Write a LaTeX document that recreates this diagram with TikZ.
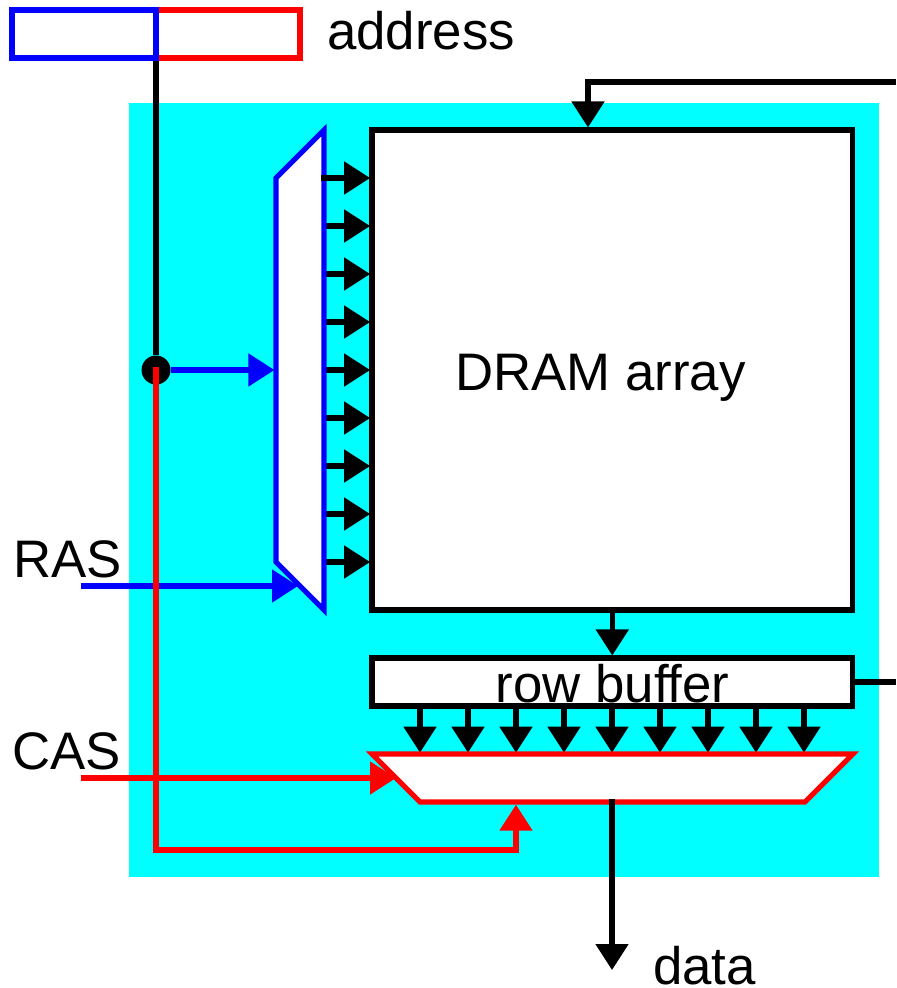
\documentclass[tikz,border=0pt]{standalone}
\usepackage{fontspec}
\setmainfont{Liberation Sans}
\usetikzlibrary{arrows.meta, calc}
\definecolor{chipcyan}{RGB}{0,255,255}
\definecolor{rowblue}{RGB}{0,0,255}
\definecolor{colred}{RGB}{255,0,0}

\begin{document}
\begin{tikzpicture}[x=0.75pt,y=-0.75pt,every node/.style={font=\fontsize{39.6}{44}\selectfont}]
%
% Skiss:
% address -> dot -> row mux -> DRAM array -> row buffer -> col mux -> data
%
\tikzstyle{chip} = [rectangle, minimum width=562.5pt, minimum height=580.5pt, fill=chipcyan, inner sep=0pt]
\tikzstyle{addr} = [rectangle, minimum width=108pt, minimum height=36pt, line width=3.8pt, fill=white, inner sep=0pt]
\tikzstyle{block} = [rectangle, minimum width=360.4pt, draw=black, line width=3.8pt, fill=white, inner sep=0pt]
\tikzstyle{muxbox} = [rectangle, inner sep=0pt, outer sep=0pt]
\tikzstyle{mux} = [line width=3.8pt, fill=white, line join=miter]
\tikzstyle{label} = [inner sep=0pt, anchor=base west]
\tikzstyle{arrow} = [line width=3.8pt,-{Triangle[length=19.5pt,width=24pt]}]
\tikzstyle{line} = [line width=3.8pt]
\useasboundingbox (0,0) rectangle (896,988);
% Nodes
\node (chip) [chip] at (504,490) {};
\node (addrCol) [addr, draw=colred] at (228,34) {};
\node (addrRow) [addr, draw=rowblue] at (84,34) {};
\node (addrLabel) [label] at (327,49.5) {address};
\node (array) [block, minimum height=360pt] at (612.25,370) {};
\node (arrayLabel) [label, anchor=base] at (600.5,390) {DRAM array};
\node (rowBuf) [block, minimum height=36pt] at (612.25,682) {};
\node (rowBufLabel) [label, anchor=base] at (612.5,702) {row buffer};
\node (dot) [circle, fill=black, minimum size=21.75pt, inner sep=0pt] at (156,370) {};
\node (colMux) [muxbox, minimum width=36pt, minimum height=360pt] at (300,370) {};
\node (rowMux) [muxbox, minimum width=360.75pt, minimum height=36pt] at (612.5,778) {};
\node (rasLabel) [label] at (13,577) {RAS};
\node (casLabel) [label] at (12,769) {CAS};
\node (dataLabel) [label] at (653,984) {data};
\coordinate (topIn) at (896,82);
\coordinate (topTurn) at (588,82);
\coordinate (bufOut) at (896,682);
\coordinate (rasIn) at (81,586);
\coordinate (rasEnd) at (298,586);
\coordinate (casIn) at (81,778);
\coordinate (casEnd) at (396,778);
\coordinate (redTurn) at (516,850);
\coordinate (dataEnd) at (612,970);

% Arrows
\draw [line] (dot |- addrRow.south) -- (dot);
\draw [arrow] (topIn) -- (topTurn) -- (topTurn |- array.north);
\draw [line] (rowBuf.east) -- (bufOut);
\draw [arrow] (array.south) -- (rowBuf.north);
\foreach \i in {0,...,8} {
  \coordinate (rowTap\i) at (0,178+48*\i);
  \coordinate (colTap\i) at (420+48*\i,0);
  \draw [arrow, shorten >=-0.5pt] (colMux.east |- rowTap\i) -- (rowTap\i -| array.west);
  \draw [arrow, shorten >=1pt] (colTap\i |- rowBuf.south) -- (colTap\i |- rowMux.north);
}
\draw [mux, draw=rowblue] (colMux.north east) -- (colMux.south east) -- ($(colMux.south west)+(0,-48)$) -- ($(colMux.north west)+(0,48)$) -- cycle;
\draw [mux, draw=colred] (rowMux.north west) -- (rowMux.north east) -- ($(rowMux.south east)+(-48,0)$) -- ($(rowMux.south west)+(48,0)$) -- cycle;
\draw [line] (321,178) -- (327,178);
\draw [arrow, rowblue, shorten >=1.2pt] (dot) -- (colMux.west);
\draw [arrow, rowblue] (rasIn) -- (rasEnd);
\draw [arrow, colred] (casIn) -- (casEnd);
\draw [arrow, colred, shorten <=-2pt, shorten >=2pt] (dot.center) |- (redTurn) -- (redTurn |- rowMux.south);
\draw [arrow, shorten <=-2pt] (rowMux.south -| dataEnd) -- (dataEnd);

\end{tikzpicture}
\end{document}
